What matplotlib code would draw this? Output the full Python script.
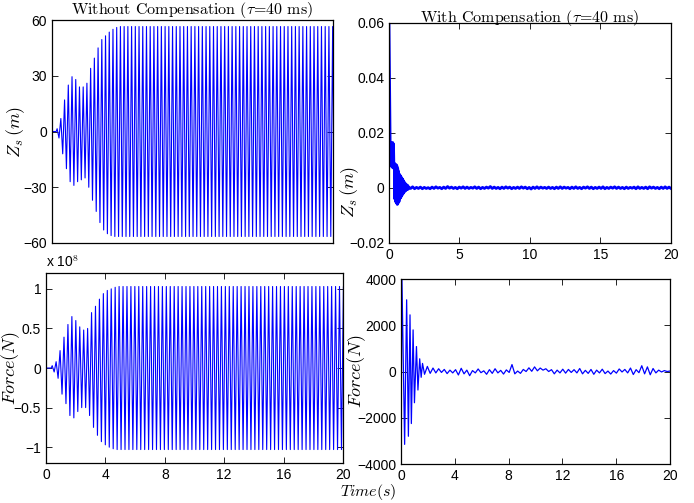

# -*- coding: utf-8 -*-
"""
Z_s and force response, without / with delay compensation (tau = 40 ms)
2 x 2 panel figure, matlab look
"""

import numpy as np
import matplotlib
matplotlib.use( "Agg" )
import matplotlib.pyplot as plt

# ---------------- data
period          = 0.265        # s, oscillation period seen in the left panels

# top left : Z_s without compensation, peaks per cycle (m)
zs_nc_start     = 0.30
zs_nc_pos       = [ 1.5, 7, 17, 25, 29.5, 28, 24, 24, 26, 34, 39.5, 45, 49.5, 51.5, 53.5, 55, 56, 56.5 ]
zs_nc_neg       = [ -3.5, -12, -20, -27, -29, -27, -26, -25, -30, -37, -43, -49, -53, -55, -56, -56.5, -56.5, -56.5 ]
zs_nc_sat       = 56.5

# bottom left : force without compensation, peaks per cycle ( x 1e8 N )
f_nc_start      = 0.35
f_nc_pos        = [ 0.03, 0.08, 0.22, 0.39, 0.55, 0.65, 0.60, 0.52, 0.48, 0.50, 0.70, 0.78, 0.87, 0.94, 0.98, 1.0, 1.02, 1.03 ]
f_nc_neg        = [ -0.05, -0.13, -0.33, -0.45, -0.60, -0.63, -0.55, -0.50, -0.50, -0.60, -0.75, -0.85, -0.93, -0.97, -1.0, -1.02, -1.03, -1.03 ]
f_nc_sat        = 1.03

# top right : Z_s with compensation (m)
zs_c_t          = [ 0.00, 0.08, 0.11, 0.14, 0.17, 0.20, 0.23, 0.26, 0.29, 0.32, 0.35, 0.38, 0.41, 0.44, 0.47,
                    0.50, 0.53, 0.56, 0.59, 0.62, 0.65, 0.68, 0.71, 0.74, 0.77, 0.80, 0.83, 0.86, 0.89, 0.92,
                    0.95, 0.98, 1.01, 1.04, 1.07, 1.10, 1.13, 1.16, 1.19, 1.22, 1.25, 1.28, 1.31, 1.34, 1.37 ]
zs_c_v          = [ 0.060, 0.017, 0.008, 0.0165, 0.008, 0.016, 0.0075, 0.0165, 0.008, 0.016, 0.007, 0.009, -0.004, 0.008, -0.005,
                    0.0085, -0.0055, 0.008, -0.006, 0.007, -0.0055, 0.006, -0.005, 0.005, -0.004, 0.0045, -0.0035, 0.004, -0.003, 0.0035,
                    -0.0025, 0.003, -0.002, 0.0025, -0.0015, 0.002, -0.0012, 0.0016, -0.0009, 0.0013, -0.0007, 0.001, -0.0005, 0.0008, -0.0004 ]
zs_c_tail       = [ 3, -2, 4, -3, 2, -2, 3, -3, 2, -2, 1, -3, 3, -2, 4, -1, 2, -3, 3, -2, 5, -1, 3, -2, 2, -3, 3, -1,
                    4, -2, 3, -2, 2, -1, 4, -2, 3, -3, 2, -2, 3, -1, 5, -2, 3, -2, 2, -3, 3, -2, 4, -1, 3, -3, 2, -2,
                    3, -2, 4, -1, 3, -3, 2, -4, 3, -2, 4, -2, 3, -1, 2, -2, 3, -2, 2, -3, 3, -2, 4, -2, 3, -1, 2, -3,
                    3, -2, 4, -2, 2, -3, 3, -1, 4, -2, 3, -3, 2, -2, 3, -2, 4, -3, 2, -2, 3, -1, 4, -2, 3, -2, 2, -3,
                    3, -2, 2, -1, 3, -3, 4, -2, 2, -2, 3, -3, 4, -1, 3, -2, 2, -3, 3, -2, 4, -2, 3, -2 ]   # x 1e-4 m, 1.4 s to 20 s

# bottom right : force with compensation (N)
f_c_t           = [ 0.00, 0.07, 0.27, 0.42, 0.55, 0.67, 0.77, 0.90, 1.00, 1.15, 1.26, 1.39, 1.50, 1.60 ]
f_c_v           = [ -2700, 4000, -3150, 3100, -2800, 2450, -2250, 1800, -1350, 1080, -800, 550, -250, 350 ]
f_c_tail        = [ -120, 220, -80, 150, -60, 120, -40, 90, -90, 60, -60, 80, -150, 140, -100, 60, -180, 40,
                    -60, 110, -50, 30, -120, 80, -80, 120, -60, 50, -110, 70, -40, 300, -100, 20, -80, 90, 0,
                    160, 10, 200, 30, 150, 60, 120, 0, 80, -100, 60, -60, 100, -70, 90, -40, 80, -60, 130, -100,
                    50, -80, 90, -120, 60, -60, 100, -90, 20, -110, 40, -70, 110, -20, 90, -60, 150, -130, 80,
                    -50, 250, -100, 200, -140, 130, -60, 60, -20, 40, 0, 20 ]     # from 1.75 s to 20 s

t_end           = 20.0
BLUE            = ( 0, 0, 1 )

# ---------------- build the zig zag series from the peak lists
def peaks_to_series( t_start, pos, neg, sat ):
    """
    alternate + peak / - peak every half period, then hold the saturated amplitude
    """
    n_steady   = int( ( t_end - t_start ) / period ) - len( pos ) + 1
    pos        = list( pos ) + [ sat ] * n_steady
    neg        = list( neg ) + [ -sat ] * n_steady
    tt         = [ 0.0, t_start ]
    vv         = [ 0.0, 0.0 ]
    for ix, ( p, n ) in enumerate( zip( pos, neg ) ):
        tt    += [ t_start + ( ix + 0.25 ) * period, t_start + ( ix + 0.75 ) * period ]
        vv    += [ p, n ]
    return np.array( tt ), np.array( vv )

t_zs_nc, v_zs_nc  = peaks_to_series( zs_nc_start, zs_nc_pos, zs_nc_neg, zs_nc_sat )
t_f_nc,  v_f_nc   = peaks_to_series( f_nc_start,  f_nc_pos,  f_nc_neg,  f_nc_sat  )

t_tail            = np.linspace( 1.40, t_end, len( zs_c_tail ) )
t_zs_c            = np.concatenate( [ zs_c_t, t_tail ] )
v_zs_c            = np.concatenate( [ zs_c_v, np.array( zs_c_tail ) * 1e-4 ] )

t_ftail           = np.linspace( 1.75, t_end, len( f_c_tail ) )
t_f_c             = np.concatenate( [ f_c_t, t_ftail ] )
v_f_c             = np.concatenate( [ f_c_v, f_c_tail ] )

# ---------------- figure
plt.rcParams[ "font.family" ]       = [ "Liberation Sans", "DejaVu Sans" ]
plt.rcParams[ "mathtext.fontset" ]  = "cm"
plt.rcParams[ "font.size" ]         = 10

fig     = plt.figure( figsize = ( 6.94, 5.03 ), dpi = 100 )
ax_tl   = fig.add_axes( [ 0.0749, 0.5169, 0.4049, 0.4433 ] )
ax_tr   = fig.add_axes( [ 0.5605, 0.5169, 0.4063, 0.4380 ] )
ax_bl   = fig.add_axes( [ 0.0663, 0.0795, 0.4280, 0.3777 ] )
ax_br   = fig.add_axes( [ 0.5778, 0.0775, 0.3876, 0.3678 ] )

for ax in ( ax_tl, ax_tr, ax_bl, ax_br ):
    ax.tick_params( direction = "in", top = True, right = True, length = 4, width = 0.6, labelsize = 10 )
    for sp in ax.spines.values():
        sp.set_linewidth( 0.9 )
    ax.set_xlim( 0, t_end )

title_kw  = dict( fontfamily = "cmr10", fontsize = 11.5, pad = 0.5 )
label_kw  = dict( fontsize = 13 )

# top left
ax_tl.plot( t_zs_nc, v_zs_nc, color = BLUE, linewidth = 0.8 )
ax_tl.set_ylim( -60, 60 )
ax_tl.set_yticks( [ -60, -30, 0, 30, 60 ] )
ax_tl.set_xticks( [] )
ax_tl.set_title( r"Without Compensation ($\tau$=40 ms)", **title_kw )
ax_tl.set_ylabel( r"$Z_s\,(m)$", **label_kw )
ax_tl.yaxis.set_label_coords( -0.09, 0.5 )

# top right
ax_tr.plot( t_zs_c, v_zs_c, color = BLUE, linewidth = 2.0 )
ax_tr.set_ylim( -0.02, 0.06 )
ax_tr.set_yticks( [ -0.02, 0, 0.02, 0.04, 0.06 ] )
ax_tr.set_yticklabels( [ "−0.02", "0", "0.02", "0.04", "0.06" ] )
ax_tr.set_xticks( [ 0, 5, 10, 15, 20 ] )
ax_tr.set_title( r"With Compensation ($\tau$=40 ms)", **title_kw )
ax_tr.set_ylabel( r"$Z_s\,(m)$", **label_kw )
ax_tr.yaxis.set_label_coords( -0.1, 0.23 )

# bottom left
ax_bl.plot( t_f_nc, v_f_nc, color = BLUE, linewidth = 0.8 )
ax_bl.set_ylim( -1.2, 1.2 )
ax_bl.set_yticks( [ -1, -0.5, 0, 0.5, 1 ] )
ax_bl.set_yticklabels( [ "−1", "−0.5", "0", "0.5", "1" ] )
ax_bl.set_xticks( [ 0, 4, 8, 12, 16, 20 ] )
ax_bl.set_ylabel( r"$Force(N)$", **label_kw )
ax_bl.yaxis.set_label_coords( -0.08, 0.5 )
ax_bl.text( 0.0, 1.015, r"x 10$^8$", transform = ax_bl.transAxes, ha = "left", va = "bottom", fontsize = 10 )

# bottom right
ax_br.plot( t_f_c, v_f_c, color = BLUE, linewidth = 0.9 )
ax_br.set_ylim( -4000, 4000 )
ax_br.set_yticks( [ -4000, -2000, 0, 2000, 4000 ] )
ax_br.set_xticks( [ 0, 4, 8, 12, 16, 20 ] )
ax_br.set_ylabel( r"$Force(N)$", **label_kw )
ax_br.yaxis.set_label_coords( -0.123, 0.5 )

fig.text( 0.53, 0.002, r"$Time(s)$", ha = "center", va = "bottom", fontsize = 11.5 )

fig.savefig( "out.png", dpi = 100 )
